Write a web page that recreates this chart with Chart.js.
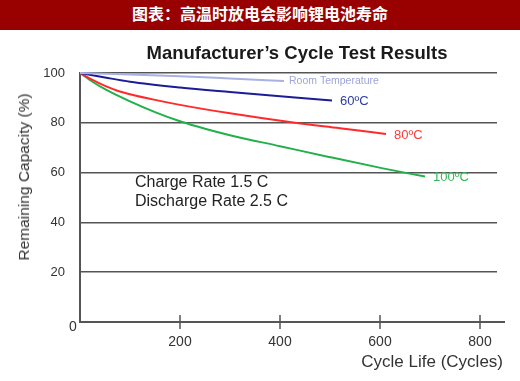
<!DOCTYPE html>
<html>
<head>
<meta charset="utf-8">
<script src="https://cdn.jsdelivr.net/npm/chart.js@4"></script>
<style>
  html, body { margin: 0; padding: 0; background: #fff; }
  #wrap { position: relative; width: 520px; height: 381px; overflow: hidden; font-family: "Liberation Sans", Arial, sans-serif; }
  #c { position: absolute; left: 0; top: 0; }
  #hdr { position: absolute; left: 0; top: 0; width: 520px; height: 30px; background: #990000; color: #fff;
         font-family: "Noto Sans CJK SC", sans-serif; font-weight: bold; font-size: 16px; line-height: 26px; text-align: center; }
  #ttl { position: absolute; left: 0; width: 594px; top: 42px; text-align: center; font-weight: bold; font-size: 18.5px; color: #1a1a1a; }
  #ytitle { position: absolute; left: 24px; top: 177px; transform: translate(-50%, -50%) rotate(-90deg); white-space: nowrap; font-size: 15.5px; color: #333; }
  #xtitle { position: absolute; right: 17px; top: 352px; white-space: nowrap; font-size: 17px; color: #333; }
  .note { position: absolute; left: 135px; font-size: 16px; color: #222; white-space: nowrap; }
</style>
</head>
<body>
<div id="wrap">
  <canvas id="c" width="520" height="381"></canvas>
  <div id="hdr">图表：高温时放电会影响锂电池寿命</div>
  <div id="ttl">Manufacturer’s Cycle Test Results</div>
  <div id="ytitle">Remaining Capacity (%)</div>
  <div id="xtitle">Cycle Life (Cycles)</div>
  <div class="note" style="top:173px">Charge Rate 1.5 C</div>
  <div class="note" style="top:192px">Discharge Rate 2.5 C</div>
</div>
<script>
// ---- data ----
const xTicks = [0, 200, 400, 600, 800];
const yTicks = [0, 20, 40, 60, 80, 100];

const roomCycles = [0, 100, 200, 300, 408];
const roomValues = [100, 99.4, 98.7, 97.8, 96.8];

const c60Cycles = [0, 50, 100, 200, 300, 430, 504];
const c60Values = [100, 98.2, 96.5, 94.2, 92.4, 90.2, 89.0];

const c80Cycles = [0, 25, 50, 75, 100, 150, 200, 300, 430, 520, 612];
const c80Values = [100, 97.2, 94.8, 92.9, 91.5, 89.2, 87.2, 83.8, 80.0, 77.8, 75.5];

const c100Cycles = [0, 25, 50, 100, 150, 200, 250, 300, 400, 500, 606, 690];
const c100Values = [100, 96.5, 93.5, 88.6, 84.3, 80.6, 77.6, 75.0, 70.6, 66.2, 61.7, 58.4];

const seriesNames = ['Room Temperature', '60ºC', '80ºC', '100ºC'];
const seriesColors = ['#a9b0e4', '#1c1c96', '#ff2a2a', '#22b04a'];
const labelColors = ['#9ea4dc', '#2e3ca6', '#ff3b3b', '#35b857'];

function pts(xs, ys) { return xs.map((x, i) => ({ x: x, y: ys[i] })); }

const endLabels = {
  id: 'endLabels',
  afterDatasetsDraw(chart) {
    const ctx = chart.ctx;
    ctx.save();
    chart.data.datasets.forEach((ds, i) => {
      const meta = chart.getDatasetMeta(i);
      const last = meta.data[meta.data.length - 1];
      const small = i === 0;
      ctx.font = (small ? '10.5px' : '13px') + ' "Liberation Sans", Arial, sans-serif';
      ctx.fillStyle = labelColors[i];
      ctx.textBaseline = 'middle';
      ctx.textAlign = 'left';
      ctx.fillText(ds.label, last.x + (small ? 5 : 8), last.y + (small ? 0 : 1));
    });
    // x-axis tick marks crossing the axis line
    const xs = chart.scales.x, ysc = chart.scales.y;
    const y0 = ysc.getPixelForValue(0);
    ctx.strokeStyle = '#555';
    ctx.lineWidth = 1.5;
    xTicks.filter(v => v > 0).forEach(v => {
      const px = xs.getPixelForValue(v);
      ctx.beginPath(); ctx.moveTo(px, y0 - 7); ctx.lineTo(px, y0 + 7); ctx.stroke();
    });
    // extended x-axis line
    ctx.lineWidth = 2;
    ctx.beginPath(); ctx.moveTo(xs.right, y0); ctx.lineTo(xs.right + 8, y0); ctx.stroke();
    // zero label
    ctx.font = '14px "Liberation Sans", Arial, sans-serif';
    ctx.fillStyle = '#333';
    ctx.textAlign = 'center';
    ctx.textBaseline = 'middle';
    ctx.fillText(String(yTicks[0]), xs.getPixelForValue(0) - 7, y0 + 5);
    ctx.restore();
  }
};

const common = { borderWidth: 2, cubicInterpolationMode: 'monotone', pointRadius: 0 };

new Chart(document.getElementById('c'), {
  type: 'line',
  data: {
    datasets: [
      Object.assign({ label: seriesNames[0], data: pts(roomCycles, roomValues), borderColor: seriesColors[0] }, common),
      Object.assign({ label: seriesNames[1], data: pts(c60Cycles, c60Values), borderColor: seriesColors[1] }, common),
      Object.assign({ label: seriesNames[2], data: pts(c80Cycles, c80Values), borderColor: seriesColors[2] }, common),
      Object.assign({ label: seriesNames[3], data: pts(c100Cycles, c100Values), borderColor: seriesColors[3] }, common)
    ]
  },
  options: {
    responsive: false,
    animation: false,
    clip: false,
    layout: { padding: { left: 0, top: 73, right: 23, bottom: 0 } },
    plugins: { legend: { display: false }, tooltip: { enabled: false }, title: { display: false } },
    scales: {
      x: {
        type: 'linear', min: 0, max: 834,
        afterFit: s => { s.height = 59; },
        afterBuildTicks: s => { s.ticks = xTicks.map(v => ({ value: v })); },
        ticks: { callback: v => v === 0 ? '' : String(v), padding: 12, color: '#333', maxRotation: 0,
                 font: { family: '"Liberation Sans", Arial, sans-serif', size: 14 } },
        grid: { display: false, drawTicks: false },
        border: { display: true, color: '#555', width: 2 }
      },
      y: {
        min: 0, max: 100,
        afterFit: s => { s.width = 80; },
        afterBuildTicks: s => { s.ticks = yTicks.map(v => ({ value: v })); },
        ticks: { callback: v => v === 0 ? '' : String(v), padding: 15, color: '#333',
                 font: { family: '"Liberation Sans", Arial, sans-serif', size: 13 } },
        grid: { drawTicks: false, color: ctx => ctx.tick && ctx.tick.value === 0 ? 'rgba(0,0,0,0)' : '#555', lineWidth: 1.5 },
        border: { display: true, color: '#555', width: 2 }
      }
    }
  },
  plugins: [endLabels]
});
</script>
</body>
</html>
